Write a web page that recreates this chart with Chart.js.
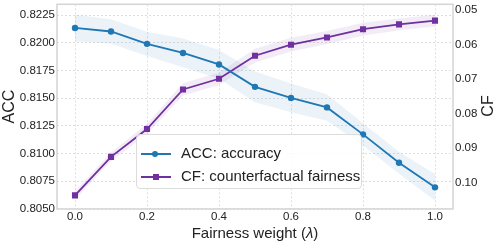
<!DOCTYPE html>
<html>
<head>
<meta charset="utf-8">
<script src="https://cdn.jsdelivr.net/npm/chart.js@4.4.1/dist/chart.umd.min.js"></script>
<style>
  body { margin: 0; background: #fff; font-family: 'Liberation Sans', Arial, sans-serif; }
  #wrap { position: relative; width: 498px; height: 244px; }
  #legend {
    position: absolute; left: 136px; top: 134px; width: 226px; height: 55px;
    box-sizing: border-box; border: 1px solid #dcdcdc; border-radius: 4px;
    background: rgba(255,255,255,0.85); color: #222; font-size: 15px;
  }
  .leg-row { position: absolute; left: 0; height: 18px; width: 100%; }
  .leg-line { position: absolute; left: 4px; top: 8px; width: 30px; height: 2px; }
  .leg-mark { position: absolute; }
  .leg-text { position: absolute; left: 44px; top: -1px; line-height: 18px; white-space: nowrap; }
  .axis-title { position: absolute; color: #222; white-space: nowrap; }
</style>
</head>
<body>
<div id="wrap">
  <canvas id="fairChart"></canvas>
  <div id="legend">
    <div class="leg-row" style="top: 10px;">
      <span class="leg-line" style="background: #1f77b4;"></span>
      <span class="leg-mark" style="left: 15px; top: 6px; width: 6px; height: 6px; border-radius: 50%; background: #1f77b4;"></span>
      <span class="leg-text">ACC: accuracy</span>
    </div>
    <div class="leg-row" style="top: 33px;">
      <span class="leg-line" style="background: #7030a0;"></span>
      <span class="leg-mark" style="left: 16px; top: 6px; width: 6px; height: 6px; background: #7030a0;"></span>
      <span class="leg-text">CF: counterfactual fairness</span>
    </div>
  </div>
  <div class="axis-title" id="xTitle" style="left: 0; width: 510px; top: 224px; font-size: 15px; text-align: center;">Fairness weight (<i>λ</i>)</div>
  <div class="axis-title" id="cfTitle" style="left: 472px; top: 97px; width: 32px; font-size: 16px; text-align: center; transform: rotate(-90deg);">CF</div>
</div>

<script>
const lambdas = [0.0, 0.1, 0.2, 0.3, 0.4, 0.5, 0.6, 0.7, 0.8, 0.9, 1.0];
const accMean = [0.82135, 0.82103, 0.81991, 0.81909, 0.81805, 0.81602, 0.81502, 0.81416, 0.81172, 0.80916, 0.80693];
const accStd = [0.0012, 0.0011, 0.0011, 0.0013, 0.0013, 0.0014, 0.0013, 0.0012, 0.0010, 0.0010, 0.0012];
const cfMean = [0.1038, 0.0926, 0.0845, 0.0730, 0.0699, 0.0632, 0.0600, 0.0579, 0.0555, 0.0541, 0.0530];
const cfStd = [0.0012, 0.0013, 0.0015, 0.0018, 0.0018, 0.0020, 0.0020, 0.0019, 0.0019, 0.0017, 0.0017];

const xTicks = [0.0, 0.2, 0.4, 0.6, 0.8, 1.0];
const accTicks = [0.8050, 0.8075, 0.8100, 0.8125, 0.8150, 0.8175, 0.8200, 0.8225];
const cfTicks = [0.05, 0.06, 0.07, 0.08, 0.09, 0.10];

const ACC_COLOR = '#1f77b4';
const CF_COLOR = '#7030a0';

const pts = (ys) => lambdas.map((x, i) => ({ x: x, y: ys[i] }));

// frame around the plot area (seaborn whitegrid style)
const framePlugin = {
    id: 'frame',
    beforeDatasetsDraw(chart) {
        const { ctx, chartArea: a } = chart;
        ctx.save();
        ctx.strokeStyle = '#d4d4d4';
        ctx.lineWidth = 1.5;
        ctx.strokeRect(a.left, a.top, a.right - a.left, a.bottom - a.top);
        ctx.restore();
    }
};

const tickFont = { family: "'Liberation Sans', Arial, sans-serif", size: 11.5 };

function fixSize(prop, val) {
    return (scale) => {
        scale[prop] = val;
        scale.paddingTop = 0;
        scale.paddingBottom = 0;
        scale.paddingLeft = 0;
        scale.paddingRight = 0;
    };
}

const ctx = document.getElementById('fairChart').getContext('2d');
new Chart(ctx, {
    type: 'line',
    data: {
        datasets: [
            {
                label: 'ACC: accuracy',
                data: pts(accMean),
                yAxisID: 'y',
                borderColor: ACC_COLOR,
                backgroundColor: ACC_COLOR,
                borderWidth: 1.8,
                pointStyle: 'circle',
                pointRadius: 3.2,
                pointBorderWidth: 0,
                fill: false
            },
            {
                label: 'CF: counterfactual fairness',
                data: pts(cfMean),
                yAxisID: 'y1',
                borderColor: CF_COLOR,
                backgroundColor: CF_COLOR,
                borderWidth: 1.8,
                pointStyle: 'rect',
                pointRadius: 4.3,
                pointBorderWidth: 0,
                fill: false
            },
            {
                data: pts(accMean.map((v, i) => v + accStd[i])),
                yAxisID: 'y',
                borderWidth: 0,
                pointRadius: 0,
                fill: false
            },
            {
                data: pts(accMean.map((v, i) => v - accStd[i])),
                yAxisID: 'y',
                borderWidth: 0,
                pointRadius: 0,
                backgroundColor: 'rgba(31, 119, 180, 0.09)',
                fill: '-1'
            },
            {
                data: pts(cfMean.map((v, i) => v + cfStd[i])),
                yAxisID: 'y1',
                borderWidth: 0,
                pointRadius: 0,
                fill: false
            },
            {
                data: pts(cfMean.map((v, i) => v - cfStd[i])),
                yAxisID: 'y1',
                borderWidth: 0,
                pointRadius: 0,
                backgroundColor: 'rgba(112, 48, 160, 0.09)',
                fill: '-1'
            }
        ]
    },
    options: {
        responsive: true,
        maintainAspectRatio: false,
        animation: false,
        layout: { padding: { top: 4, left: 0, right: 0, bottom: 0 } },
        plugins: {
            legend: { display: false },
            tooltip: { enabled: false }
        },
        scales: {
            x: {
                type: 'linear',
                min: -0.05,
                max: 1.05,
                afterBuildTicks: (scale) => { scale.ticks = xTicks.map(v => ({ value: v })); },
                afterFit: fixSize('height', 35),
                ticks: {
                    font: tickFont,
                    color: '#222',
                    padding: 1,
                    maxRotation: 0,
                    callback: (v) => Number(v).toFixed(1)
                },
                grid: { color: 'rgba(0,0,0,0.13)', drawTicks: false, tickBorderDash: [2, 2] },
                border: { display: false, dash: [2, 2] }
            },
            y: {
                position: 'left',
                min: 0.80497,
                max: 0.82349,
                afterBuildTicks: (scale) => { scale.ticks = accTicks.map(v => ({ value: v })); },
                afterFit: fixSize('width', 57),
                ticks: {
                    font: tickFont,
                    color: '#222',
                    padding: 2,
                    callback: (v) => Number(v).toFixed(4)
                },
                grid: { color: 'rgba(0,0,0,0.13)', drawTicks: false },
                border: { display: false, dash: [2, 2] },
                title: {
                    display: true,
                    text: 'ACC',
                    color: '#222',
                    font: { family: "'Liberation Sans', Arial, sans-serif", size: 16 },
                    padding: { top: 0, bottom: 0 }
                }
            },
            y1: {
                position: 'right',
                reverse: true,
                min: 0.04826,
                max: 0.10775,
                afterBuildTicks: (scale) => { scale.ticks = cfTicks.map(v => ({ value: v })); },
                afterFit: fixSize('width', 45),
                ticks: {
                    font: tickFont,
                    color: '#222',
                    padding: 2,
                    callback: (v) => Number(v).toFixed(2)
                },
                grid: { display: false, drawTicks: false },
                border: { display: false }
            }
        }
    },
    plugins: [framePlugin]
});
</script>
</body>
</html>
